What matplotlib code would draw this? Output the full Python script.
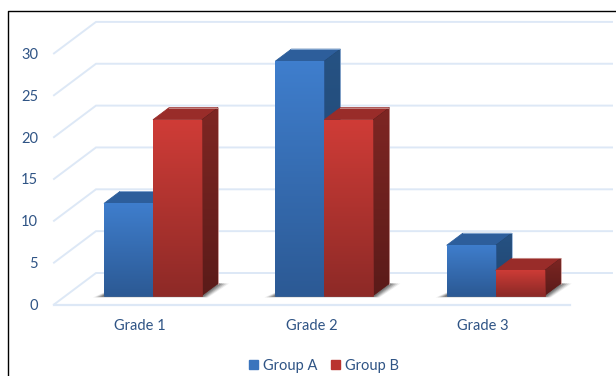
import numpy as np
import matplotlib
matplotlib.use('Agg')
import matplotlib.pyplot as plt
from matplotlib.colors import LinearSegmentedColormap
from matplotlib.lines import Line2D
from matplotlib.patches import Polygon

categories = ['Grade 1', 'Grade 2', 'Grade 3']
group_a = [11, 28, 6]
group_b = [21, 21, 3]
y_ticks = [0, 5, 10, 15, 20, 25, 30]

TEXT = '#2f5485'
GRID = '#dde8f6'
BLUE = {'front': ('#2c5a95', '#3f7ecd'), 'top': '#2d5e9b', 'side': ('#1f4570', '#265283'), 'edge': '#8fb0d8'}
RED = {'front': ('#8e2a27', '#cf3c37'), 'top': '#992c29', 'side': ('#5b1b19', '#7e2623'), 'edge': '#cf9a97'}

# one category is 171.35 px, one y unit is 8.37 px
PX_X = 1 / 171.35
PX_Y = 1 / 8.37
BAR_W = 49 * PX_X
DEPTH_X = 16 * PX_X
DEPTH_Y = 12 * PX_Y


def gradient(ax, poly, ymin, ymax, colors, z):
    cmap = LinearSegmentedColormap.from_list('g', colors)
    xs = [p[0] for p in poly]
    clip = Polygon(poly, transform=ax.transData, facecolor=colors[0], edgecolor=colors[0], lw=0.5, zorder=z)
    ax.add_patch(clip)
    im = ax.imshow(np.linspace(1, 0, 64).reshape(-1, 1), cmap=cmap, aspect='auto',
                   extent=(min(xs), max(xs), ymin, ymax), zorder=z, interpolation='bilinear')
    im.set_clip_path(clip)


def bar3d(ax, x, h, style, z):
    x1 = x + BAR_W
    dx, dy = DEPTH_X, DEPTH_Y
    front = [(x, 0), (x1, 0), (x1, h), (x, h)]
    top = [(x, h), (x1, h), (x1 + dx, h + dy), (x + dx, h + dy)]
    side = [(x1, 0), (x1 + dx, dy), (x1 + dx, h + dy), (x1, h)]
    ax.add_patch(Polygon(top, facecolor=style['top'], edgecolor=style['top'], lw=0.6, zorder=z))
    gradient(ax, side, 0, h + dy, style['side'], z + 0.1)
    gradient(ax, front, 0, h, style['front'], z + 0.2)
    # pale rim along the outer edges
    ax.plot([x + dx, x1 + dx, x1 + dx], [h + dy, h + dy, dy], color=style['edge'], lw=0.7,
            alpha=0.8, zorder=z + 0.3)


def floor_shadow(ax, x0, x1):
    # soft grey shadow on the floor, left of and behind the bars
    for grow, alpha in [(1.0, 0.10), (0.8, 0.16), (0.6, 0.22), (0.4, 0.28), (0.2, 0.32)]:
        low = -2 * PX_Y * (0.5 + grow / 2)
        ax.add_patch(Polygon([(x0 - 11 * PX_X * grow, low), (x1 + 6 * PX_X * grow, low),
                              (x1 + DEPTH_X + 11 * PX_X * grow, DEPTH_Y),
                              (x1 + DEPTH_X, DEPTH_Y), (x1, 0), (x0, 3 * PX_Y * grow)],
                             facecolor='#404040', edgecolor='none', alpha=alpha, zorder=2))


fig = plt.figure(figsize=(6.16, 3.76), dpi=100)
plt.rcParams['font.family'] = ['Lato', 'DejaVu Sans']
ax = fig.add_axes([0, 0, 1, 1])
ax.axis('off')

# walls and floor lines
fx0, fx1 = (54 - 153) * PX_X, (570 - 153) * PX_X
bx0, bx1 = (96 - 153) * PX_X, (612 - 153) * PX_X
fy, by = -9 * PX_Y, 22.5 * PX_Y
for v in y_ticks:
    ax.plot([fx0, bx0, bx1], [v + fy, v + by, v + by], color=GRID, lw=1.4, zorder=1,
            solid_joinstyle='miter')
    ax.text((38 - 153) * PX_X, v + fy, str(v), color=TEXT, fontsize=10.5, ha='right', va='center_baseline')
ax.plot([fx0, fx1], [fy, fy], color=GRID, lw=1.6, zorder=1)

z = 3
for i, cat in enumerate(categories):
    floor_shadow(ax, i - BAR_W, i + BAR_W)
    bar3d(ax, i - BAR_W, group_a[i], BLUE, z)
    bar3d(ax, i, group_b[i], RED, z + 1)
    z += 2
    ax.text(i - 13 * PX_X, (295.5 - 326) * PX_Y, cat, color=TEXT, fontsize=10.5, ha='center', va='center')

ax.set_xlim(-153 * PX_X, (616 - 153) * PX_X)
ax.set_ylim((295.5 - 376) * PX_Y, 295.5 * PX_Y)

handles = [plt.Rectangle((0, 0), 1, 1, color='#3a74bd'), plt.Rectangle((0, 0), 1, 1, color='#b9332f')]
leg = fig.legend(handles, ['Group A', 'Group B'], ncol=2, frameon=False, loc='center',
                 bbox_to_anchor=(324 / 616, 1 - 366 / 376), fontsize=10.5, labelcolor=TEXT,
                 handlelength=0.6, handleheight=0.6, handletextpad=0.3, columnspacing=1.0)

# black frame of the screenshot
fig.add_artist(Line2D([7.5 / 616, 7.5 / 616, 1], [0, 1 - 10.5 / 376, 1 - 10.5 / 376], color='black', lw=1))

fig.savefig('out.png', dpi=100)
